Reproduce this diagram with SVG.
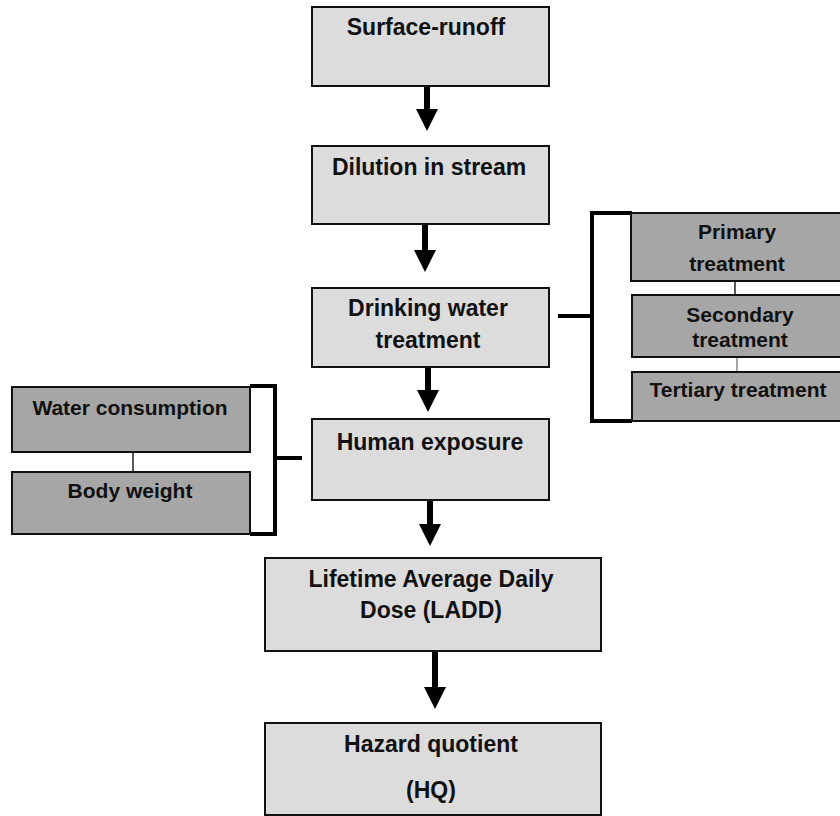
<svg xmlns="http://www.w3.org/2000/svg" width="840" height="816" viewBox="0 0 840 816">
<defs>
<style>
.main{fill:#dcdcdc;stroke:#111;stroke-width:2}
.side{fill:#a6a6a6;stroke:#111;stroke-width:2}
.t{font-family:"Liberation Sans",Arial,sans-serif;font-weight:bold;font-size:23px;fill:#111;text-anchor:middle}
.ts{font-family:"Liberation Sans",Arial,sans-serif;font-weight:bold;font-size:21px;fill:#111;text-anchor:middle}
.arr{stroke:#000;stroke-width:6;fill:none;marker-end:url(#ah)}
.br{stroke:#000;stroke-width:4;fill:none}
.thin{stroke:#222;stroke-width:1.5}
.thin2{stroke:#888;stroke-width:1.5}
</style>
<marker id="ah" markerUnits="userSpaceOnUse" markerWidth="24" markerHeight="22" refX="6" refY="11" orient="auto">
<path d="M0,0 L22,11 L0,22 z" fill="#000"/>
</marker>
</defs>
<rect width="840" height="816" fill="#fff"/>
<g id="connectors">
<line class="arr" x1="427" y1="86" x2="427" y2="115"/>
<line class="arr" x1="425" y1="224" x2="425" y2="256"/>
<line class="arr" x1="428" y1="367" x2="428" y2="396"/>
<line class="arr" x1="430" y1="500" x2="430" y2="530"/>
<line class="arr" x1="435" y1="651" x2="435" y2="693"/>
<polyline class="br" points="632,213 592,213 592,421 632,421"/>
<line class="br" x1="558" y1="316" x2="592" y2="316"/>
<line class="thin" x1="735" y1="281" x2="735" y2="295"/>
<line class="thin2" x1="737" y1="357" x2="737" y2="372"/>
<polyline class="br" points="250,386 275,386 275,534 250,534"/>
<line class="br" x1="275" y1="458" x2="302" y2="458"/>
<line class="thin" x1="133" y1="452" x2="133" y2="472"/>
</g>
<g id="surface-runoff">
<rect class="main" x="312" y="7" width="237" height="79"/>
<text class="t" x="426" y="35">Surface-runoff</text>
</g>
<g id="dilution">
<rect class="main" x="312" y="146" width="237" height="78"/>
<text class="t" x="429" y="175">Dilution in stream</text>
</g>
<g id="drinking-water">
<rect class="main" x="312" y="288" width="237" height="79"/>
<text class="t" x="428" y="316">Drinking water</text>
<text class="t" x="428" y="348">treatment</text>
</g>
<g id="human-exposure">
<rect class="main" x="312" y="419" width="237" height="81"/>
<text class="t" x="430" y="450">Human exposure</text>
</g>
<g id="ladd">
<rect class="main" x="265" y="558" width="336" height="93"/>
<text class="t" x="431" y="587">Lifetime Average Daily</text>
<text class="t" x="431" y="618">Dose (LADD)</text>
</g>
<g id="hq">
<rect class="main" x="265" y="723" width="336" height="92"/>
<text class="t" x="431" y="752">Hazard quotient</text>
<text class="t" x="431" y="798">(HQ)</text>
</g>
<g id="primary">
<rect class="side" x="631" y="213" width="212" height="68"/>
<text class="ts" x="737" y="239">Primary</text>
<text class="ts" x="737" y="271">treatment</text>
</g>
<g id="secondary">
<rect class="side" x="632" y="295" width="211" height="62"/>
<text class="ts" x="740" y="322">Secondary</text>
<text class="ts" x="740" y="347">treatment</text>
</g>
<g id="tertiary">
<rect class="side" x="632" y="372" width="211" height="49"/>
<text class="ts" x="738" y="397">Tertiary treatment</text>
</g>
<g id="water-consumption">
<rect class="side" x="12" y="387" width="238" height="65"/>
<text class="ts" x="130" y="415">Water consumption</text>
</g>
<g id="body-weight">
<rect class="side" x="12" y="472" width="238" height="62"/>
<text class="ts" x="130" y="498">Body weight</text>
</g>
</svg>
